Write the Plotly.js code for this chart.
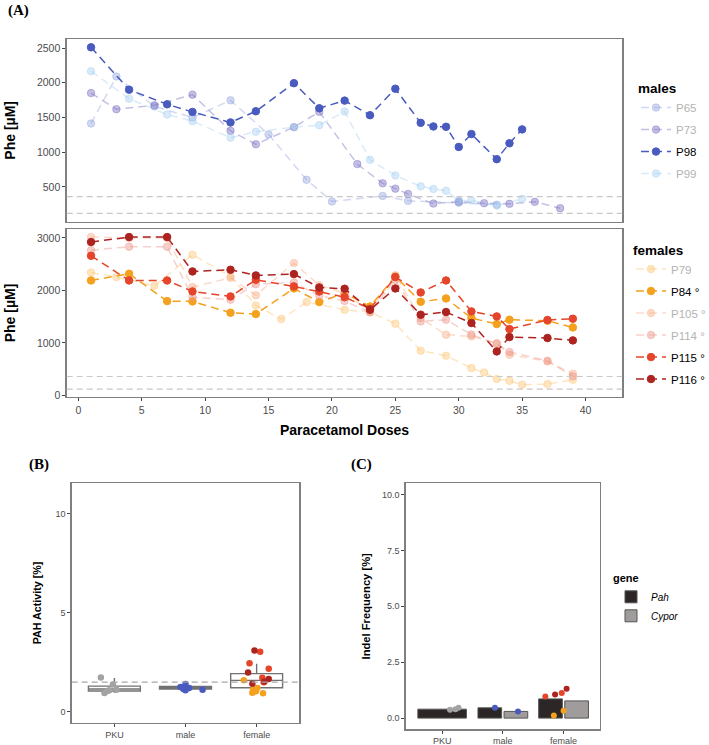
<!DOCTYPE html>
<html>
<head>
<meta charset="utf-8">
<script src="https://cdn.plot.ly/plotly-3.0.1.min.js"></script>
<style>
  html, body { margin: 0; padding: 0; background: #fff; }
  #chart { width: 709px; height: 745px; }
</style>
</head>
<body>
<div id="chart"></div>
<script>
// ---------------------------------------------------------------------------
//  (A) Phe [µM] per animal over paracetamol doses
// ---------------------------------------------------------------------------
const P65_DOSE = [1, 3, 6, 9, 12, 15, 18, 20, 24, 26, 30, 33];
const P65_PHE  = [1414, 2090, 1660, 1500, 1747, 1257, 604, 290, 371, 300, 271, 245];
const P73_DOSE = [1, 3, 6, 9, 12, 14, 17, 19, 22, 24, 25, 26, 28, 30, 32, 34, 36, 38];
const P73_PHE  = [1851, 1619, 1676, 1829, 1309, 1114, 1361, 1581, 829, 552, 476, 400, 261, 290, 266, 257, 286, 194];
const P98_DOSE = [1, 4, 7, 9, 12, 14, 17, 19, 21, 23, 25, 27, 28, 29, 30, 31, 33, 34, 35];
const P98_PHE  = [2510, 1900, 1690, 1580, 1429, 1590, 1994, 1633, 1743, 1533, 1914, 1423, 1371, 1366, 1076, 1261, 900, 1129, 1329];
const P99_DOSE = [1, 4, 7, 9, 12, 14, 17, 19, 21, 23, 25, 27, 28, 29, 30, 31, 33, 35];
const P99_PHE  = [2166, 1771, 1543, 1447, 1209, 1295, 1361, 1390, 1586, 890, 666, 509, 471, 447, 304, 304, 233, 329];

const F_DOSE   = [1, 4, 7, 9, 12, 14, 17, 19, 21, 23, 25, 27, 29, 31, 33, 34, 37, 39];
const P79_DOSE = [1, 3, 6, 9, 12, 14, 16, 18, 21, 23, 25, 27, 29, 31, 32, 33, 34, 35, 37, 39];
const P79_PHE  = [2342, 2254, 2089, 2680, 2267, 1714, 1455, 1778, 1632, 1588, 1366, 851, 756, 521, 438, 311, 279, 203, 216, 298];
const P84_PHE  = [2190, 2318, 1797, 1791, 1575, 1550, 2038, 1778, 1949, 1695, 2267, 1784, 1848, 1473, 1360, 1442, 1423, 1295];
const P105_PHE = [3017, 3000, 3000, 2064, 2240, 1908, 2521, 2100, 1950, 1600, 2290, 1470, 1156, 1124, 998, 775, 648, 413];
const P114_PHE = [2767, 2832, 2832, 1870, 1822, 2120, 2150, 1900, 1800, 1580, 2200, 1410, 1442, 1160, 980, 826, 660, 362];
const P115_PHE = [2661, 2190, 2190, 1981, 1886, 2203, 2076, 1981, 1873, 1651, 2254, 1962, 2190, 1600, 1505, 1264, 1436, 1461];
const P116_PHE = [2922, 3017, 3017, 2362, 2394, 2286, 2311, 2057, 2032, 1632, 2038, 1537, 1588, 1379, 838, 1112, 1093, 1048];

const PHE_REF = [120, 360];          // dashed reference lines

// ---------------------------------------------------------------------------
//  (B) PAH activity, (C) indel frequency
// ---------------------------------------------------------------------------
const GROUPS = ['PKU', 'male', 'female'];

const PAH_Q1     = [1.05, 1.15, 1.22];
const PAH_MEDIAN = [1.15, 1.22, 1.59];
const PAH_Q3     = [1.30, 1.28, 1.93];
const PAH_LOW    = [0.95, 1.12, 0.94];
const PAH_HIGH   = [1.71, 1.30, 2.43];
const PAH_REF    = 1.5;

// points: group index, jitter, value
const PAH_GREY_G  = [0, 0, 0, 0, 0, 0];
const PAH_GREY_J  = [-0.19, -0.14, -0.07, -0.10, -0.02, 0.03];
const PAH_GREY_V  = [1.74, 0.95, 1.09, 1.05, 1.38, 1.12];
const PAH_BLUE_G  = [1, 1, 1, 1, 1, 1];
const PAH_BLUE_J  = [-0.07, 0.0, 0.0, 0.05, -0.03, 0.24];
const PAH_BLUE_V  = [1.26, 1.41, 1.09, 1.21, 1.15, 1.12];
const PAH_ORNG_G  = [2, 2, 2, 2, 2, 2];
const PAH_ORNG_J  = [-0.18, -0.05, -0.01, -0.06, 0.09, 0.01];
const PAH_ORNG_V  = [1.60, 1.12, 1.04, 0.96, 0.94, 1.20];
const PAH_RED_G   = [2, 2, 2, 2, 2];
const PAH_RED_J   = [0.05, -0.10, 0.17, 0.08, 0.10];
const PAH_RED_V   = [3.03, 2.46, 2.18, 1.72, 1.50];
const PAH_DRED_G  = [2, 2, 2, 2, 2];
const PAH_DRED_J  = [-0.03, -0.12, -0.06, 0.11, 0.17];
const PAH_DRED_V  = [3.10, 1.99, 1.42, 1.53, 1.66];

const INDEL_PAH   = [0.40, 0.46, 0.86];
const INDEL_CYPOR = [null, 0.30, 0.77];

const IND_GREY_G = [0, 0, 0];
const IND_GREY_J = [0.13, 0.22, 0.27];
const IND_GREY_V = [0.37, 0.40, 0.46];
const IND_BLUE_G = [1, 1];
const IND_BLUE_J = [-0.13, 0.25];
const IND_BLUE_V = [0.46, 0.30];
const IND_ORNG_G = [2, 2];
const IND_ORNG_J = [-0.16, 0.0];
const IND_ORNG_V = [0.12, 0.33];
const IND_RED_G  = [2, 2];
const IND_RED_J  = [-0.30, -0.03];
const IND_RED_V  = [0.97, 1.12];
const IND_DRED_G = [2, 2];
const IND_DRED_J = [-0.14, 0.05];
const IND_DRED_V = [1.06, 1.31];

// ---------------------------------------------------------------------------
const FONT = 'Liberation Sans, Arial, sans-serif';
const TICK = '#4d4d4d';
const FADED_TXT = '#b3b3b3';
const C = {
  blue: '#4a5bbf', orange: '#f4a11d', red: '#e5452a', dred: '#ad2320', grey: '#a3a3a3',
};

function lineTrace(id, x, y, color, faded, axis, legend) {
  return {
    type: 'scatter', mode: 'lines+markers', x, y, xaxis: axis[0], yaxis: axis[1], legend,
    legendgroup: id,                                   // one group each → tracegroupgap spaces rows
    name: faded ? `<span style="color:${FADED_TXT}">${id}</span>` : id,
    line: { color, width: 1.5, dash: '8px,5px' },
    marker: { size: 7.5, color, line: { color, width: 1 } },
    hoverinfo: 'skip',
  };
}

const males = [
  ['P65', P65_DOSE, P65_PHE, 'rgba(125,145,215,0.35)', true],
  ['P73', P73_DOSE, P73_PHE, 'rgba(125,115,195,0.45)', true],
  ['P98', P98_DOSE, P98_PHE, C.blue, false],
  ['P99', P99_DOSE, P99_PHE, 'rgba(160,205,240,0.4)', true],
];
const females = [
  ['P79', P79_DOSE, P79_PHE, 'rgba(252,200,120,0.45)', true],
  ['P84 °', F_DOSE, P84_PHE, C.orange, false],
  ['P105 °', F_DOSE, P105_PHE, 'rgba(248,175,140,0.45)', true],
  ['P114 °', F_DOSE, P114_PHE, 'rgba(238,150,140,0.45)', true],
  ['P115 °', F_DOSE, P115_PHE, C.red, false],
  ['P116 °', F_DOSE, P116_PHE, C.dred, false],
];

const traces = [];
males.forEach(([id, x, y, col, f]) => traces.push(lineTrace(id, x, y, col, f, ['x', 'y'], 'legend')));
females.forEach(([id, x, y, col, f]) => traces.push(lineTrace(id, x, y, col, f, ['x2', 'y2'], 'legend2')));

// (B) boxes from the summary stats
traces.push({
  type: 'box', x: [0, 1, 2], q1: PAH_Q1, median: PAH_MEDIAN, q3: PAH_Q3,
  lowerfence: PAH_LOW, upperfence: PAH_HIGH, xaxis: 'x3', yaxis: 'y3',
  width: 0.73, whiskerwidth: 0, boxpoints: false, showlegend: false,
  line: { color: '#727272', width: 1.4 }, fillcolor: 'rgba(255,255,255,0)', hoverinfo: 'skip',
});

function dots(g, j, v, color, axis, size) {
  return {
    type: 'scatter', mode: 'markers', x: g.map((k, i) => k + j[i]), y: v,
    xaxis: axis[0], yaxis: axis[1], showlegend: false, hoverinfo: 'skip',
    marker: { size, color },
  };
}
traces.push(dots(PAH_GREY_G, PAH_GREY_J, PAH_GREY_V, C.grey, ['x3', 'y3'], 6.5));
traces.push(dots(PAH_BLUE_G, PAH_BLUE_J, PAH_BLUE_V, C.blue, ['x3', 'y3'], 6.5));
traces.push(dots(PAH_ORNG_G, PAH_ORNG_J, PAH_ORNG_V, C.orange, ['x3', 'y3'], 6.5));
traces.push(dots(PAH_RED_G, PAH_RED_J, PAH_RED_V, C.red, ['x3', 'y3'], 6.5));
traces.push(dots(PAH_DRED_G, PAH_DRED_J, PAH_DRED_V, C.dred, ['x3', 'y3'], 6.5));

// (C) dodged bars; a group with a single gene takes the full width
const genes = [['<i>Pah</i>', INDEL_PAH, '#2c2726'], ['<i>Cypor</i>', INDEL_CYPOR, '#a09c9b']];
genes.forEach(([name, vals, col], gi) => {
  const width = [], offset = [];
  GROUPS.forEach((_, k) => {
    const present = genes.filter((gg) => gg[1][k] != null).length;
    if (present === 1) { width.push(0.8); offset.push(-0.4); }
    else { width.push(0.39); offset.push(gi === 0 ? -0.41 : 0.02); }
  });
  traces.push({
    type: 'bar', x: [0, 1, 2], y: vals, name, width, offset, xaxis: 'x4', yaxis: 'y4',
    legend: 'legend3', marker: { color: col, line: { color: '#555', width: 1 } }, hoverinfo: 'skip',
  });
});
traces.push(dots(IND_GREY_G, IND_GREY_J, IND_GREY_V, C.grey, ['x4', 'y4'], 6));
traces.push(dots(IND_BLUE_G, IND_BLUE_J, IND_BLUE_V, C.blue, ['x4', 'y4'], 6));
traces.push(dots(IND_ORNG_G, IND_ORNG_J, IND_ORNG_V, C.orange, ['x4', 'y4'], 6));
traces.push(dots(IND_RED_G, IND_RED_J, IND_RED_V, C.red, ['x4', 'y4'], 6));
traces.push(dots(IND_DRED_G, IND_DRED_J, IND_DRED_V, C.dred, ['x4', 'y4'], 6));

// ---------------------------------------------------------------------------
const W = 709, H = 745;
const dx = (a, b) => [a / W, b / W];
const dy = (top, bot) => [1 - bot / H, 1 - top / H];

const axBase = {
  showline: true, mirror: true, linecolor: '#7f7f7f', linewidth: 1.3,
  showgrid: false, zeroline: false, ticks: 'outside', ticklen: 3, tickwidth: 1,
  tickcolor: '#444', tickfont: { size: 10.5, color: TICK, family: FONT },
};
// panels B and C are drawn smaller in the figure
const axSmall = { ...axBase, tickfont: { size: 9, color: TICK, family: FONT } };
const ttl = (t, standoff, size = 14) => ({ text: `<b>${t}</b>`, font: { size, color: '#000' }, standoff });

const legBase = {
  xanchor: 'left', yanchor: 'top', bgcolor: 'rgba(0,0,0,0)',
  font: { size: 11.5, color: '#000', family: FONT }, tracegroupgap: 3,
};

const shapes = [];
['y', 'y2'].forEach((ya) => PHE_REF.forEach((v) => shapes.push({
  type: 'line', xref: ya === 'y' ? 'x domain' : 'x2 domain', yref: ya, x0: 0, x1: 1, y0: v, y1: v,
  line: { color: '#c8c8c8', width: 1.2, dash: '6px,4px' },
})));
shapes.push({
  type: 'line', xref: 'x3 domain', yref: 'y3', x0: 0, x1: 1, y0: PAH_REF, y1: PAH_REF,
  line: { color: '#a8a8a8', width: 1.2, dash: '6px,4px' },
});

const panelLab = (t, x, y) => ({
  text: `<b>${t}</b>`, x: x / W, y: 1 - y / H, xref: 'paper', yref: 'paper', showarrow: false,
  xanchor: 'left', yanchor: 'middle', font: { family: 'Liberation Serif, serif', size: 15, color: '#000' },
});

const layout = {
  width: W, height: H, margin: { l: 0, r: 0, t: 0, b: 0, autoexpand: false },
  paper_bgcolor: '#fff', plot_bgcolor: '#fff', font: { family: FONT, color: TICK },
  xaxis: { ...axBase, domain: dx(66.7, 622.3), range: [-0.92, 42.9], anchor: 'y',
    showticklabels: false, ticks: '' },
  yaxis: { ...axBase, domain: dy(39, 221.7), range: [0, 2630], anchor: 'x',
    tickvals: [500, 1000, 1500, 2000, 2500], title: ttl('Phe [µM]', 18) },
  xaxis2: { ...axBase, domain: dx(66.7, 622.3), range: [-0.92, 42.9], anchor: 'y2',
    tick0: 0, dtick: 5, title: ttl('Paracetamol Doses', 10) },
  yaxis2: { ...axBase, domain: dy(229.3, 396.7), range: [-25, 3165], anchor: 'x2',
    tickvals: [0, 1000, 2000, 3000], title: ttl('Phe [µM]', 18) },
  xaxis3: { ...axSmall, domain: dx(71.7, 299.3), range: [-0.6, 2.6], anchor: 'y3',
    tickvals: [0, 1, 2], ticktext: GROUPS },
  yaxis3: { ...axSmall, domain: dy(483.3, 722.7), range: [-0.55, 11.55], anchor: 'x3',
    tickvals: [0, 5, 10], title: ttl('PAH Activity [%]', 11, 10.7) },
  xaxis4: { ...axSmall, domain: dx(405.7, 600), range: [-0.6, 2.6], anchor: 'y4',
    tickvals: [0, 1, 2], ticktext: GROUPS },
  yaxis4: { ...axSmall, domain: dy(483.3, 729.3), range: [-0.5, 10.5], anchor: 'x4',
    tickvals: [0, 2.5, 5, 7.5, 10], tickformat: '.1f', title: ttl('Indel Frequency [%]', 9, 11.2) },
  barmode: 'overlay',
  legend: { ...legBase, x: 636 / W, y: 1 - 75.5 / H,
    title: { text: '<b>males</b>', font: { size: 13.5, color: '#000' } } },
  legend2: { ...legBase, x: 631 / W, y: 1 - 237 / H,
    title: { text: '<b>females</b>', font: { size: 13.5, color: '#000' } } },
  legend3: { ...legBase, x: 611 / W, y: 1 - 568 / H, font: { size: 10, color: '#000', family: FONT },
    tracegroupgap: 0, title: { text: '<b>gene</b>', font: { size: 11, color: '#000' } } },
  shapes,
  annotations: [panelLab('(A)', 6, 11), panelLab('(B)', 27, 464), panelLab('(C)', 349, 464)],
};

Plotly.newPlot('chart', traces, layout, { staticPlot: true, displayModeBar: false });
</script>
</body>
</html>
